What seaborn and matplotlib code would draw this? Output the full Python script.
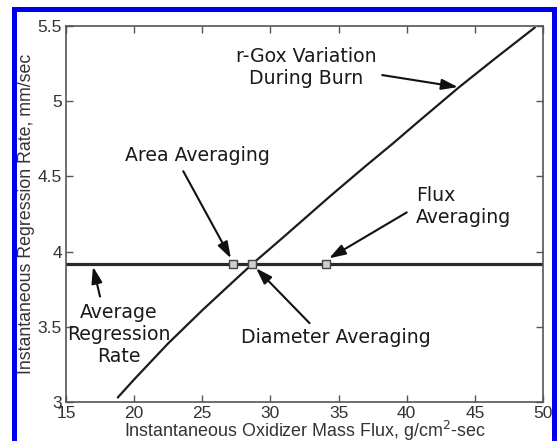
import matplotlib
matplotlib.use("Agg")
import matplotlib.pyplot as plt
import seaborn as sns
from matplotlib.patches import Rectangle

# Instantaneous regression rate vs. oxidizer mass flux over the burn
flux = [18.8, 20.0, 22.5, 25.0, 27.5, 28.7, 31.0, 34.4, 37.0, 39.0, 40.8, 43.8, 46.5, 49.4]
rate = [3.03, 3.15, 3.39, 3.61, 3.82, 3.92, 4.10, 4.37, 4.57, 4.72, 4.86, 5.09, 5.285, 5.49]

# Space/time averaged regression rate and the flux from each averaging method
avg_rate = 3.92
avg_methods = ["Area", "Diameter", "Flux"]
avg_flux = [27.25, 28.65, 34.1]

x_ticks = [15, 20, 25, 30, 35, 40, 45, 50]
y_ticks = [3, 3.5, 4, 4.5, 5, 5.5]
y_tick_labels = ["3", "3.5", "4", "4.5", "5", "5.5"]

sns.set_theme(style="white")
plt.rcParams["font.family"] = ["DejaVu Sans"]

W, H = 558, 441
fig = plt.figure(figsize=(W / 100, H / 100), dpi=100)
ax = fig.add_axes([66 / W, 1 - 402 / H, (543 - 66) / W, (402 - 26) / H])

line_col = "#1c1c1c"
sns.lineplot(x=flux, y=rate, ax=ax, color=line_col, lw=1.6, sort=False)
ax.axhline(avg_rate, color="#2a2a2a", lw=2.3, zorder=2)
sns.scatterplot(x=avg_flux, y=[avg_rate] * len(avg_flux), ax=ax, marker="s",
                s=38, facecolor="#cfcfcf", edgecolor="#444444", linewidth=1.0,
                zorder=4)

ax.set_xlim(15, 50)
ax.set_ylim(3, 5.5)
ax.set_xticks(x_ticks)
ax.set_xticklabels([str(t) for t in x_ticks])
ax.set_yticks(y_ticks)
ax.set_yticklabels(y_tick_labels)

for lab in ax.get_xticklabels() + ax.get_yticklabels():
    lab.set_fontfamily("Liberation Sans")
    lab.set_fontsize(12.5)
    lab.set_color("#333333")

ax.tick_params(direction="in", length=5, width=1, colors="#555555",
               top=True, right=True, bottom=True, left=True, pad=3,
               labelcolor="#333333")
for sp in ax.spines.values():
    sp.set_color("#555555")
    sp.set_linewidth(1.2)

ax.set_xlabel("Instantaneous Oxidizer Mass Flux, g/cm$^2$-sec",
              family="Liberation Sans", size=12.9, color="#333333")
ax.set_ylabel("Instantaneous Regression Rate, mm/sec",
              family="Liberation Sans", size=12.8, color="#333333")
ax.xaxis.set_label_coords(0.5, -0.044)
ax.yaxis.set_label_coords(-0.064, 0.5)

ann_font = dict(fontsize=13.6, color="#1a1a1a", family="DejaVu Sans")
arrow = dict(arrowstyle="-|>,head_length=0.55,head_width=0.18", color="#111111",
             lw=1.5, mutation_scale=18, shrinkA=2, shrinkB=0)

ax.annotate("r-Gox Variation\nDuring Burn", xy=(43.76, 5.094), xytext=(32.6, 5.221),
            ha="center", va="center", multialignment="center",
            arrowprops=dict(arrow, relpos=(1.0, 0.35)), **ann_font)
ax.annotate("Area Averaging", xy=(27.1, 3.955), xytext=(24.65, 4.636),
            ha="center", va="center",
            arrowprops=dict(arrow, relpos=(0.38, 0.0)), **ann_font)
ax.annotate("Flux\nAveraging", xy=(34.3, 3.955), xytext=(40.68, 4.297),
            ha="left", va="center", multialignment="left",
            arrowprops=dict(arrow, relpos=(0.0, 0.5), shrinkA=5), **ann_font)
ax.annotate("Average\nRegression\nRate", xy=(16.98, 3.90), xytext=(18.89, 3.452),
            ha="center", va="center", multialignment="center",
            arrowprops=dict(arrow, relpos=(0.33, 1.0)), **ann_font)
ax.annotate("Diameter Averaging", xy=(28.94, 3.89), xytext=(34.78, 3.426),
            ha="center", va="center",
            arrowprops=dict(arrow, relpos=(0.39, 1.0)), **ann_font)

# blue frame around the figure (left, top, right edges)
blue = "#0000ee"
for (x0, y0, x1, y1) in [(12, 7, 17, 441), (12, 7, 557, 12), (552, 7, 557, 441)]:
    fig.patches.append(Rectangle((x0 / W, 1 - y1 / H), (x1 - x0) / W, (y1 - y0) / H,
                                 transform=fig.transFigure, facecolor=blue,
                                 edgecolor="none", zorder=10))

fig.savefig("out.png", dpi=100, facecolor="white")
